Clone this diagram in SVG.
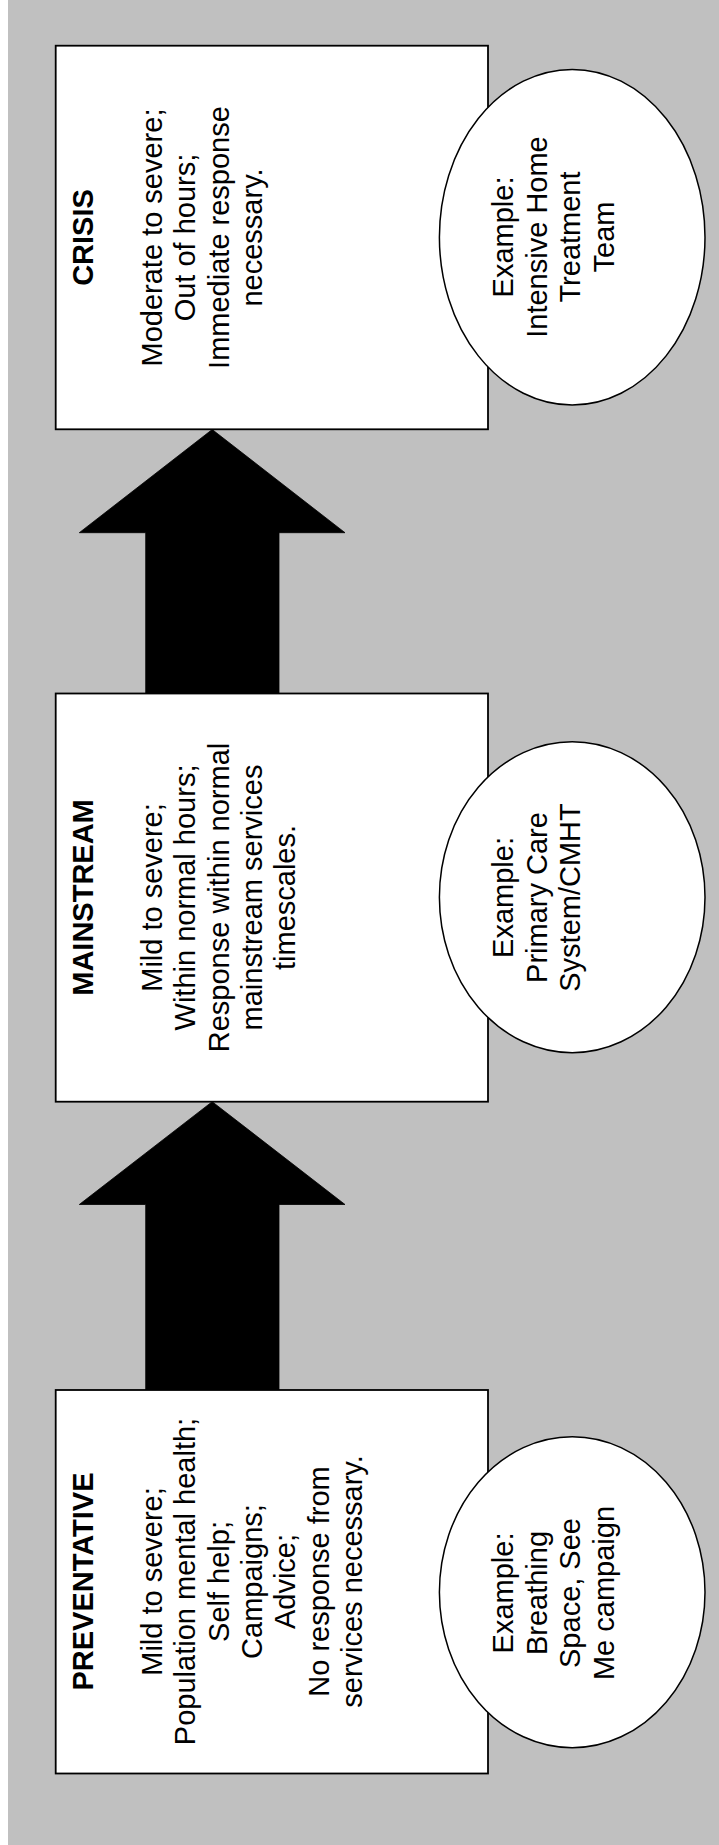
<svg xmlns="http://www.w3.org/2000/svg" width="719" height="1845" viewBox="0 0 719 1845">
<style>
.bg{fill:#C0C0C0}
.box{fill:#FFFFFF;stroke:#000000;stroke-width:1.8}
.ell{fill:#FFFFFF;stroke:#000000;stroke-width:1.5}
.arrow{fill:#000000;stroke:#000000;stroke-width:0.8}
text{font-family:"Liberation Sans",Arial,sans-serif;font-size:29px;fill:#000000;text-anchor:middle}
.title{font-weight:bold}
</style>
<rect class="bg" x="8" y="0" width="711" height="1845"/>
<g id="connectors">
<polygon class="arrow" points="212.2,429.5 345,532.7 279,532.7 279,693.5 145.7,693.5 145.7,532.7 79.3,532.7"/>
<polygon class="arrow" points="212.2,1101.7 345,1204.5 279,1204.5 279,1390 145.7,1390 145.7,1204.5 79.3,1204.5"/>
</g>
<g id="crisis">
<rect class="box" x="55.7" y="45.7" width="432.3" height="383.6"/>
<g transform="translate(0,237.5) rotate(-90)">
<text class="title" x="0" y="93.4">CRISIS</text>
<text x="0" y="161.7">Moderate to severe;</text>
<text x="0" y="195.1">Out of hours;</text>
<text x="0" y="228.5">Immediate response</text>
<text x="0" y="261.9">necessary.</text>
</g>
</g>
<g id="crisis-example">
<ellipse class="ell" cx="572.2" cy="237.2" rx="132.8" ry="167.8"/>
<g transform="translate(0,237) rotate(-90)">
<text x="0" y="513.3">Example:</text>
<text x="0" y="546.7">Intensive Home</text>
<text x="0" y="580.1">Treatment</text>
<text x="0" y="613.5">Team</text>
</g>
</g>
<g id="mainstream">
<rect class="box" x="55.7" y="693.5" width="432.3" height="408.2"/>
<g transform="translate(0,897.5) rotate(-90)">
<text class="title" x="0" y="93.4">MAINSTREAM</text>
<text x="0" y="161.7">Mild to severe;</text>
<text x="0" y="195.1">Within normal hours;</text>
<text x="0" y="228.5">Response within normal</text>
<text x="0" y="261.9">mainstream services</text>
<text x="0" y="295.3">timescales.</text>
</g>
</g>
<g id="mainstream-example">
<ellipse class="ell" cx="572.2" cy="897.2" rx="132.8" ry="155.5"/>
<g transform="translate(0,897.5) rotate(-90)">
<text x="0" y="513.3">Example:</text>
<text x="0" y="546.7">Primary Care</text>
<text x="0" y="580.1">System/CMHT</text>
</g>
</g>
<g id="preventative">
<rect class="box" x="55.7" y="1390" width="432.3" height="383.5"/>
<g transform="translate(0,1581.5) rotate(-90)">
<text class="title" x="0" y="93.4">PREVENTATIVE</text>
<text x="0" y="161.7">Mild to severe;</text>
<text x="0" y="195.1">Population mental health;</text>
<text x="0" y="228.5">Self help;</text>
<text x="0" y="261.9">Campaigns;</text>
<text x="0" y="295.3">Advice;</text>
<text x="0" y="328.7">No response from</text>
<text x="0" y="362.1">services necessary.</text>
</g>
</g>
<g id="preventative-example">
<ellipse class="ell" cx="572.2" cy="1592.2" rx="132.8" ry="155.5"/>
<g transform="translate(0,1593) rotate(-90)">
<text x="0" y="513.3">Example:</text>
<text x="0" y="546.7">Breathing</text>
<text x="0" y="580.1">Space, See</text>
<text x="0" y="613.5">Me campaign</text>
</g>
</g>
</svg>
